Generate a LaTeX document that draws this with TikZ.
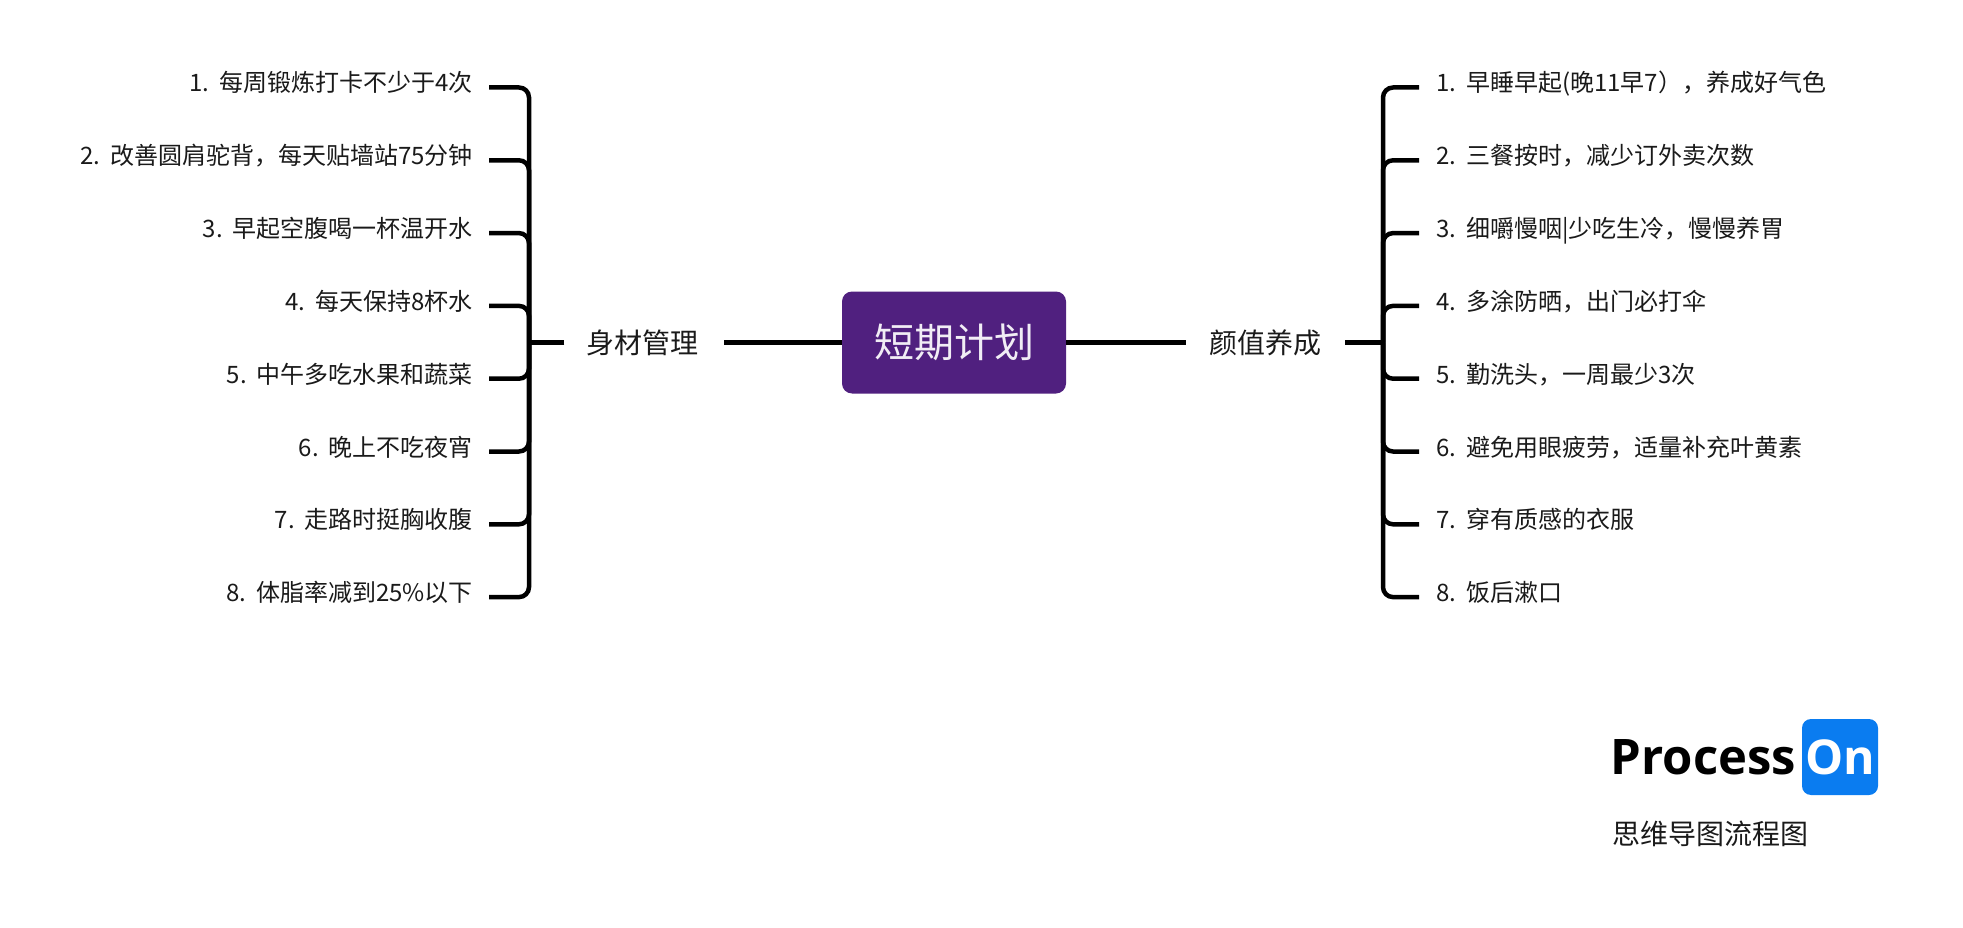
\documentclass[tikz,border=0pt]{standalone}
\usepackage{fontspec}
\setmainfont{Noto Sans CJK SC}
\newfontfamily\logofont{Open Sans}
\usetikzlibrary{calc}
\definecolor{rootpurple}{HTML}{50207F}
\definecolor{logoblue}{HTML}{0A7CF0}
\definecolor{inkc}{HTML}{1A1A1A}
\tikzset{
  conn/.style={draw=black,line width=4.5pt,rounded corners=10pt},
  rootbox/.style={fill=rootpurple,rounded corners=10pt,minimum width=224pt,minimum height=102pt,inner sep=0pt,text=white!92!rootpurple,font=\fontsize{40}{48}\selectfont},
  subtopic/.style={inner sep=0pt,minimum width=159pt,minimum height=40pt,text=inkc,font=\fontsize{28}{34}\selectfont},
  leafbase/.style={inner ysep=0pt,inner xsep=17pt,text height=20pt,text depth=11pt,text=inkc,font=\fontsize{24}{30}\selectfont},
  leafl/.style={leafbase,anchor=east,inner xsep=16pt},
  leafr/.style={leafbase,anchor=west},
  logobox/.style={fill=logoblue,rounded corners=9pt,minimum width=76pt,minimum height=76pt,inner sep=0pt,text=white,font=\logofont\bfseries\fontsize{48}{50}\selectfont},
  logotext/.style={inner sep=0pt,anchor=west,text=black,font=\logofont\bfseries\fontsize{49}{51}\selectfont},
  captiontext/.style={inner sep=0pt,anchor=west,text=inkc,font=\fontsize{28}{34}\selectfont}
}
\begin{document}
\begin{tikzpicture}[x=1pt,y=-1pt]
\useasboundingbox[fill=white] (0,0) rectangle (1963,928);
\node[rootbox] (root) at (954,342.5) {短期计划};
\node[subtopic] (subl) at (644,342.5) {\kern-4pt 身材管理};
\node[subtopic] (subr) at (1265.5,342.5) {颜值养成};
\coordinate (hubl) at (529,342.5);
\coordinate (hubr) at (1383,342.5);
\foreach \i/\t in {
 1/每周锻炼打卡不少于4次,
 2/改善圆肩驼背，每天贴墙站75分钟,
 3/早起空腹喝一杯温开水,
 4/每天保持8杯水,
 5/中午多吃水果和蔬菜,
 6/晚上不吃夜宵,
 7/走路时挺胸收腹,
 8/体脂率减到25\%以下}{
  \node[leafl] (l\i) at (489,{87.5+72.8*(\i-1)}) {\i.\hspace{10pt}\t};
  \draw[conn] (l\i.east) -- (l\i.east -| hubl) -- (hubl);
}
\foreach \i/\t in {
 1/早睡早起(晚11早7），养成好气色,
 2/三餐按时，减少订外卖次数,
 3/细嚼慢咽|少吃生冷，慢慢养胃,
 4/多涂防晒，出门必打伞,
 5/勤洗头，一周最少3次,
 6/避免用眼疲劳，适量补充叶黄素,
 7/穿有质感的衣服,
 8/饭后漱口}{
  \node[leafr] (r\i) at (1419,{87.5+72.8*(\i-1)}) {\i.\hspace{10pt}\t};
  \draw[conn] (r\i.west) -- (r\i.west -| hubr) -- (hubr);
}
\draw[conn] (root.west) -- (subl.east);
\draw[conn] (subl.west) -- (hubl);
\draw[conn] (root.east) -- (subr.west);
\draw[conn] (subr.east) -- (hubr);
\node[logotext] (logop) at (1610.5,757) {Process};
\node[logobox] (logoo) at (1840,757) {On};
\node[captiontext] (logoc) at (1612,834) {思维导图流程图};
\end{tikzpicture}
\end{document}
